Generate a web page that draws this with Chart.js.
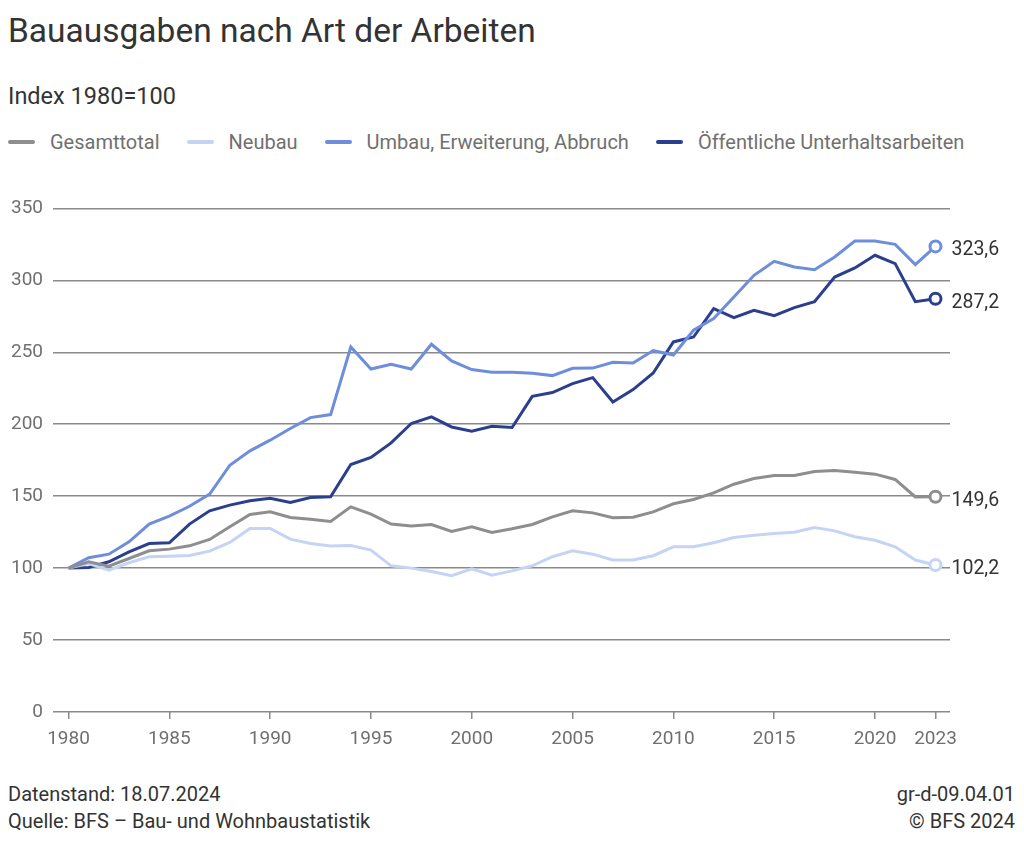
<!DOCTYPE html>
<html lang="de">
<head>
<meta charset="utf-8">
<title>Bauausgaben nach Art der Arbeiten</title>
<script src="https://cdn.jsdelivr.net/npm/chart.js@4.4.1/dist/chart.umd.min.js"></script>
<style>
    html, body { margin: 0; padding: 0; background: #fff; }
    body { width: 1024px; height: 843px; position: relative; overflow: hidden; font-family: Roboto, "Noto Sans", sans-serif; color: #333; }
    .title { position: absolute; left: 8px; top: 11px; font-size: 33.5px; line-height: 40px; }
    .subtitle { position: absolute; left: 8px; top: 82px; font-size: 23.5px; line-height: 28px; }
    .legend { position: absolute; left: 8px; top: 130px; display: flex; font-size: 20px; line-height: 24px; color: #707070; }
    .legend .item { display: flex; align-items: center; margin-right: 27px; }
    .legend .mark { width: 27px; height: 4px; border-radius: 2px; margin-right: 15px; }
    .chartWrap { position: absolute; left: 0; top: 187px; width: 1024px; height: 573px; }
    .foot { position: absolute; font-size: 20px; line-height: 27px; }
    .foot.left { left: 8px; top: 781px; }
    .foot.right { right: 9px; top: 781px; text-align: right; }
</style>
</head>
<body>
<div class="title">Bauausgaben nach Art der Arbeiten</div>
<div class="subtitle">Index 1980=100</div>
<div class="legend" id="legend"></div>
<div class="chartWrap"><canvas id="chart"></canvas></div>
<div class="foot left">Datenstand: 18.07.2024<br>Quelle: BFS – Bau- und Wohnbaustatistik</div>
<div class="foot right">gr-d-09.04.01<br>© BFS 2024</div>

<script>
// ── Daten ──
const years = [1980, 1981, 1982, 1983, 1984, 1985, 1986, 1987, 1988, 1989,
    1990, 1991, 1992, 1993, 1994, 1995, 1996, 1997, 1998, 1999,
    2000, 2001, 2002, 2003, 2004, 2005, 2006, 2007, 2008, 2009,
    2010, 2011, 2012, 2013, 2014, 2015, 2016, 2017, 2018, 2019,
    2020, 2021, 2022, 2023];

const gesamttotal = [100, 104.4, 101.4, 106.7, 112, 113.2, 115.5, 119.9, 128.7, 137.3,
    139.1, 135.2, 134, 132.4, 142.6, 137.5, 130.6, 129.2, 130.3, 125.5,
    128.7, 124.8, 127.3, 130.3, 135.6, 139.8, 138.4, 135, 135.4, 139.1,
    144.7, 147.7, 152.3, 158.3, 162.3, 164.4, 164.4, 167.1, 167.8, 166.7,
    165.3, 161.6, 149.5, 149.6];

const neubau = [100, 103.2, 98.6, 103.7, 107.9, 108.3, 108.8, 111.8, 117.8, 127.5,
    127.5, 120.1, 117.1, 115.3, 115.7, 112.5, 101.6, 100, 97.7, 94.7,
    99.5, 95.1, 98.1, 101.6, 107.9, 112, 109.7, 105.6, 105.6, 108.6,
    114.8, 114.8, 117.6, 121.3, 122.9, 124.1, 125, 128.2, 125.9, 121.8,
    119.4, 114.8, 105.6, 102.2];

const umbau = [100, 107.2, 109.7, 118.3, 130.6, 136.1, 143, 151.4, 171.5, 181.5,
    188.9, 197, 204.6, 206.7, 253.7, 238.4, 241.7, 238.4, 255.6, 244,
    238, 236.1, 236.1, 235.4, 233.8, 238.9, 239, 243, 242.6, 251.2,
    248.1, 265.3, 273.4, 288.4, 303.5, 313.2, 309.3, 307.4, 316.2, 327.3,
    327.3, 325, 310.9, 323.6];

const unterhalt = [100, 100.5, 104.4, 111.3, 117.1, 117.6, 130.6, 139.8, 143.8, 146.8,
    148.6, 145.6, 149.1, 149.5, 172, 176.9, 187, 200.5, 205.1, 198.1,
    195.1, 198.6, 197.7, 219.4, 222, 228.2, 232.4, 215.5, 224.1, 235.6,
    257.2, 260.6, 280.3, 274.1, 279.2, 275.5, 281, 285.2, 302.3, 308.6,
    317.4, 311.6, 285.2, 287.2];

const seriesNames = ['Gesamttotal', 'Neubau', 'Umbau, Erweiterung, Abbruch', 'Öffentliche Unterhaltsarbeiten'];
const seriesColors = ['#8e8e8e', '#c5d3f4', '#6e8ddb', '#2b3f8e'];
const endLabels = ['149,6', '102,2', '323,6', '287,2'];
const xTicks = [1980, 1985, 1990, 1995, 2000, 2005, 2010, 2015, 2020, 2023];
const yTicks = [0, 50, 100, 150, 200, 250, 300, 350];

// ── Legende (HTML) ──
const legendEl = document.getElementById('legend');
seriesNames.forEach((name, i) => {
    const item = document.createElement('div');
    item.className = 'item';
    item.innerHTML = `<span class="mark" style="background:${seriesColors[i]}"></span>${name}`;
    legendEl.appendChild(item);
});

// ── Datensätze ──
const allValues = [gesamttotal, neubau, umbau, unterhalt];
const lastIdx = years.length - 1;

const datasets = allValues.map((vals, i) => ({
    label: seriesNames[i],
    data: vals.map((v, j) => ({ x: years[j], y: v })),
    borderColor: seriesColors[i],
    backgroundColor: '#fff',
    borderWidth: 3,
    tension: 0,
    fill: false,
    pointRadius: ctx => ctx.dataIndex === lastIdx ? 5.5 : 0,
    pointHoverRadius: 0,
    pointBorderWidth: 3,
    pointBorderColor: seriesColors[i],
    pointBackgroundColor: '#fff'
}));

// Werte am Linienende
const endLabelPlugin = {
    id: 'endLabels',
    afterDatasetsDraw(chart) {
        const ctx = chart.ctx;
        ctx.save();
        ctx.font = '19.5px Roboto, "Noto Sans", sans-serif';
        ctx.fillStyle = '#333';
        ctx.textAlign = 'left';
        ctx.textBaseline = 'middle';
        chart.data.datasets.forEach((ds, i) => {
            const pt = chart.getDatasetMeta(i).data[lastIdx];
            if (pt) ctx.fillText(endLabels[i], pt.x + 16, pt.y + 4);
        });
        ctx.restore();
    }
};

const tickFont = { family: 'Roboto, "Noto Sans", sans-serif', size: 19 };

new Chart(document.getElementById('chart').getContext('2d'), {
    type: 'line',
    data: { datasets },
    plugins: [endLabelPlugin],
    options: {
        responsive: true,
        maintainAspectRatio: false,
        animation: false,
        events: [],
        layout: { padding: { top: 6, right: 74, left: 0, bottom: 0 } },
        plugins: { legend: { display: false }, tooltip: { enabled: false } },
        scales: {
            x: {
                type: 'linear',
                min: 1979.23,
                max: 2023.72,
                afterBuildTicks: scale => { scale.ticks = xTicks.map(v => ({ value: v })); },
                afterFit: scale => { scale.height = 48; },
                grid: { drawOnChartArea: false, drawTicks: true, tickLength: 7, color: '#8a8a8a', lineWidth: 1.5 },
                border: { display: false },
                ticks: {
                    autoSkip: false,
                    maxRotation: 0,
                    padding: 9,
                    color: '#707070',
                    font: tickFont,
                    callback: v => String(v)
                }
            },
            y: {
                min: 0,
                max: 350,
                afterBuildTicks: scale => { scale.ticks = yTicks.map(v => ({ value: v })); },
                afterFit: scale => { scale.width = 53; },
                grid: { drawTicks: false, color: '#8a8a8a', lineWidth: 1.5 },
                border: { display: false },
                ticks: {
                    padding: 10,
                    color: '#707070',
                    font: tickFont
                }
            }
        }
    }
});
</script>
</body>
</html>
